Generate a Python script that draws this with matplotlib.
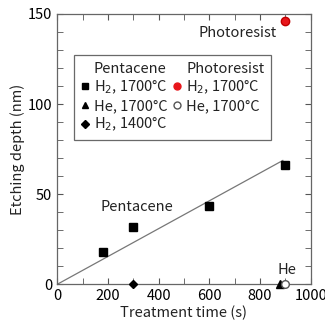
import matplotlib
matplotlib.use("Agg")
import matplotlib.pyplot as plt
from matplotlib.lines import Line2D
from matplotlib.ticker import MultipleLocator

plt.rcParams['font.family'] = ['Noto Sans CJK JP', 'DejaVu Sans']
plt.rcParams['font.size'] = 9.5

# Data
pent_h2_1700_t = [180, 300, 600, 900]
pent_h2_1700_d = [18, 32, 43.5, 66]
pent_he_1700_t = [880]
pent_he_1700_d = [0]
pent_h2_1400_t = [300]
pent_h2_1400_d = [0]
photo_h2_1700_t = [900]
photo_h2_1700_d = [146]
photo_he_1700_t = [900]
photo_he_1700_d = [0]
fit_t = [0, 890]
fit_slope = 0.0772

fig = plt.figure(figsize=(3.25, 3.31), dpi=100)
ax = fig.add_axes([0.176, 0.141, 0.78, 0.817])

ax.plot(fit_t, [fit_slope * t for t in fit_t], color='#777777', lw=0.9, zorder=2)
kw = dict(ls='none', clip_on=False, zorder=3)
ax.plot(pent_h2_1700_t, pent_h2_1700_d, marker='s', color='black', ms=5.5, **kw)
ax.plot(pent_he_1700_t, pent_he_1700_d, marker='^', color='black', ms=5.5, **kw)
ax.plot(pent_h2_1400_t, pent_h2_1400_d, marker='D', color='black', ms=4.5, **kw)
ax.plot(photo_h2_1700_t, photo_h2_1700_d, marker='o', color='#e8161b', mec='#c00000', ms=6, **kw)
ax.plot(photo_he_1700_t, photo_he_1700_d, marker='o', mfc='white', mec='#555555', ms=5.5, **kw)

ax.set_xlim(0, 1000)
ax.set_ylim(0, 150)
ax.xaxis.set_major_locator(MultipleLocator(200))
ax.xaxis.set_minor_locator(MultipleLocator(100))
ax.yaxis.set_major_locator(MultipleLocator(50))
ax.yaxis.set_minor_locator(MultipleLocator(10))
ax.tick_params(which='both', direction='in', top=True, right=True, colors='#555555',
               labelcolor='black', labelsize=10.5)
ax.tick_params(which='major', length=4)
ax.tick_params(which='minor', length=4)
for s in ax.spines.values():
    s.set_color('#666666')
    s.set_linewidth(0.9)

ax.set_xlabel('Treatment time (s)', fontsize=10.5, color='#222222', labelpad=2)
ax.set_ylabel('Etching depth (nm)', fontsize=10.5, color='#222222', labelpad=2)

ax.text(315, 43, 'Pentacene', fontsize=10.5, ha='center', va='center', color='#222222')
ax.text(868, 139.5, 'Photoresist', fontsize=10.5, ha='right', va='center', color='#222222')
ax.text(942, 8, 'He', fontsize=10.5, ha='right', va='center', color='#222222')

blank = Line2D([], [], ls='none', marker=None)
handles = [
    blank,
    Line2D([], [], ls='none', marker='s', color='black', ms=5),
    Line2D([], [], ls='none', marker='^', color='black', ms=5),
    Line2D([], [], ls='none', marker='D', color='black', ms=4),
    blank,
    Line2D([], [], ls='none', marker='o', color='#e8161b', ms=5),
    Line2D([], [], ls='none', marker='o', mfc='white', mec='#555555', ms=5),
    blank,
]
labels = ['Pentacene', 'H$_2$, 1700°C', 'He, 1700°C', 'H$_2$, 1400°C',
          'Photoresist', 'H$_2$, 1700°C', 'He, 1700°C', '']
leg = ax.legend(handles, labels, ncol=2, loc='upper left', bbox_to_anchor=(0.066, 0.847),
                fontsize=10.5, frameon=True, fancybox=False, edgecolor='#444444',
                handlelength=0.6, handletextpad=0.3, columnspacing=0.4,
                borderpad=0.45, labelspacing=0.2, borderaxespad=0)
leg.get_frame().set_linewidth(0.9)
for t in leg.get_texts():
    t.set_color('#222222')

fig.savefig('out.png', dpi=100)
